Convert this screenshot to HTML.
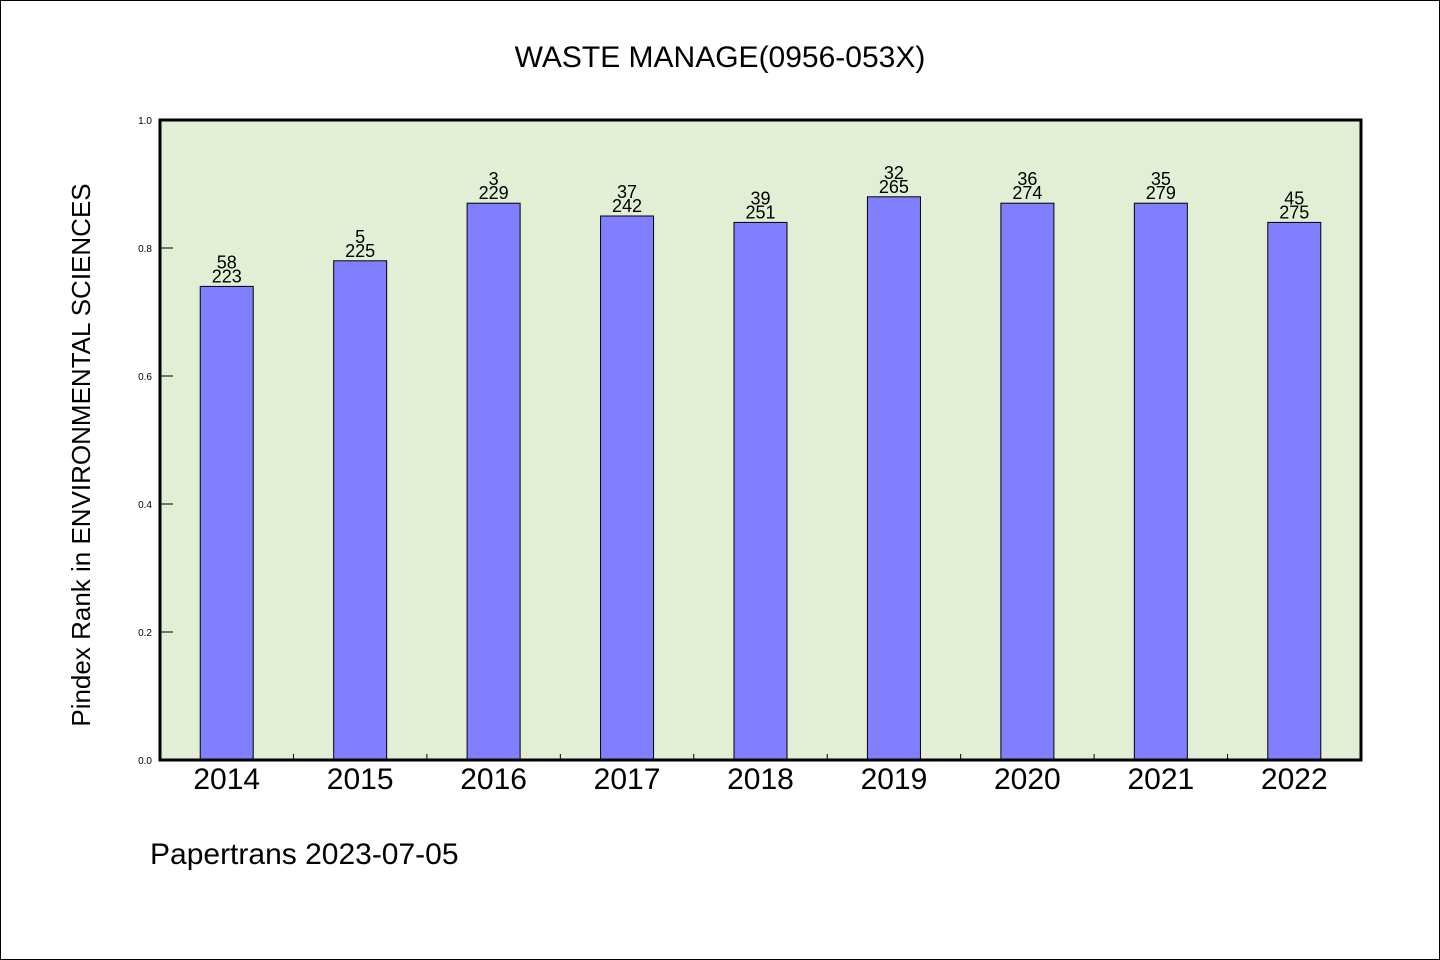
<!DOCTYPE html>
<html><head><meta charset="utf-8"><style>
body{margin:0;background:#fff}
svg{display:block}
text{font-family:"WenQuanYi Zen Hei","Liberation Sans",sans-serif;fill:#000}
</style></head><body>
<svg id="chart" width="1440" height="960">
<rect x="0.5" y="0.5" width="1439" height="959" fill="#fff" stroke="#000"/>
<text x="720" y="67" font-size="30" text-anchor="middle">WASTE MANAGE(0956-053X)</text>
<rect x="160" y="120" width="1201" height="640" fill="#e2efd5"/>
<g id="bars"></g>
<g id="ticks"></g>
<rect x="160" y="120" width="1201" height="640" fill="none" stroke="#000" stroke-width="3"/>
<text transform="translate(90,455) rotate(-90)" font-size="26" text-anchor="middle">Pindex Rank in ENVIRONMENTAL SCIENCES</text>
<text x="150" y="864" font-size="30">Papertrans 2023-07-05</text>
</svg>
<script>
const categories=["2014","2015","2016","2017","2018","2019","2020","2021","2022"];
const values=[0.74,0.78,0.87,0.85,0.84,0.88,0.87,0.87,0.84];
const topLabels=["58","5","3","37","39","32","36","35","45"];
const bottomLabels=["223","225","229","242","251","265","274","279","275"];
const yTicks=[0,0.2,0.4,0.6,0.8,1.0];
const NS="http://www.w3.org/2000/svg";
const X0=160,X1=1361,Y0=760,Y1=120;
const band=(X1-X0)/categories.length;
const xc=i=>X0+band*(i+0.5);
const y=v=>Y0-(v-0)/(1-0)*(Y0-Y1);
function mk(tag,attrs,parent,txt){const e=document.createElementNS(NS,tag);for(const k in attrs)e.setAttribute(k,attrs[k]);if(txt!==undefined)e.textContent=txt;parent.appendChild(e);return e;}
const gb=document.getElementById('bars'),gt=document.getElementById('ticks');
categories.forEach((c,i)=>{
  const bw=53;
  const r=mk('rect',{x:xc(i)-bw/2,y:y(values[i]),width:bw,height:Y0-y(values[i]),fill:'#8080ff',stroke:'#000','stroke-width':1},gb);
  
  
  const t1=mk('text',{x:xc(i),y:y(values[i])-18,'font-size':18,'text-anchor':'middle'},gb,topLabels[i]);
  
  
  const t2=mk('text',{x:xc(i),y:y(values[i])-4,'font-size':18,'text-anchor':'middle'},gb,bottomLabels[i]);
  
  
  const xl=mk('text',{x:xc(i),y:789,'font-size':30,'text-anchor':'middle'},gt,c);
  
  
  if(i>0){const tk=mk('line',{x1:X0+band*i,x2:X0+band*i,y1:Y0,y2:Y0-6,stroke:'#000'},gt);
  
  }
});
yTicks.forEach(v=>{
  const l=mk('line',{x1:X0,x2:X0+13,y1:y(v),y2:y(v),stroke:'#000'},gt);
  
  
  const t=mk('text',{x:152,y:y(v)+4,'font-size':10,'text-anchor':'end'},gt,v.toFixed(1));
  
  
});
</script>
</body></html>
